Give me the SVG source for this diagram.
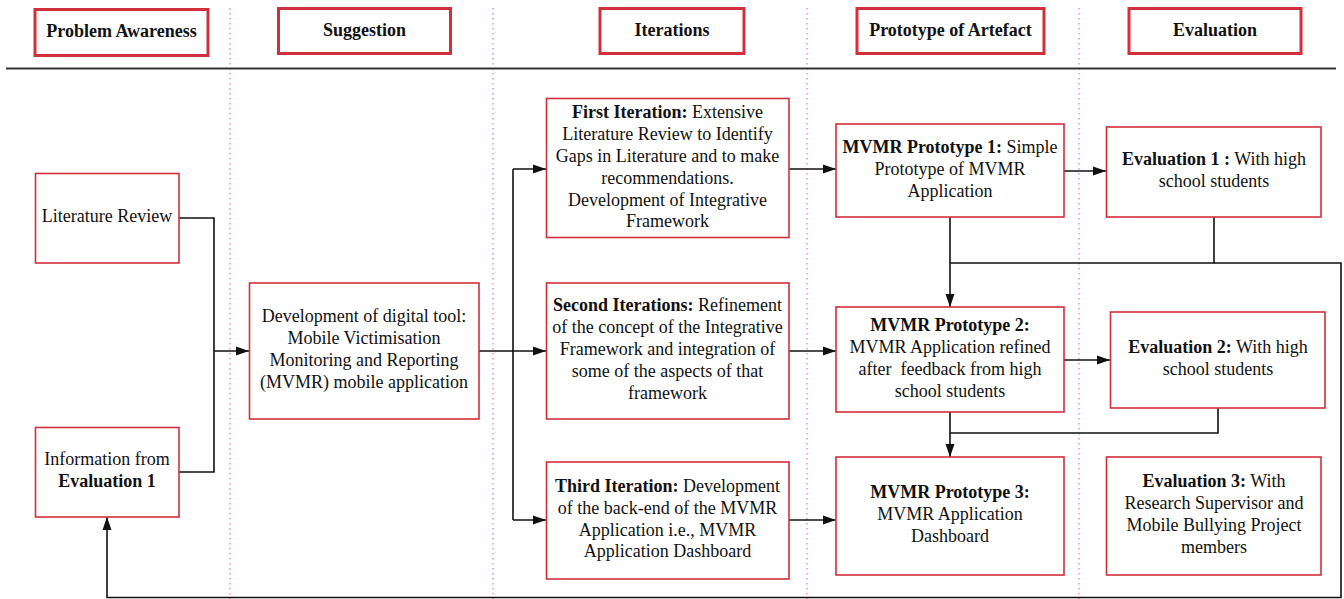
<svg xmlns="http://www.w3.org/2000/svg" width="1344" height="599" viewBox="0 0 1344 599">
  <style>
    text { font-family: "Liberation Serif", "Times New Roman", serif; font-size: 18px; fill: #111; text-anchor: middle; }
    .b { font-weight: bold; }
    .head { fill: #fff; stroke: #d22f3c; stroke-width: 3; }
    .node { fill: #fff; stroke: #d22f3c; stroke-width: 1.6; }
    .lane { stroke: #e8878f; stroke-width: 1.3; stroke-dasharray: 1.5 3.5; fill: none; }
    .wire { stroke: #111; stroke-width: 1.6; fill: none; }
  </style>
  <defs>
    <marker id="arrow" markerUnits="userSpaceOnUse" markerWidth="13" markerHeight="10" refX="13" refY="5" orient="auto">
      <path d="M0,0.5 L13,5 L0,9.5 z" fill="#111"/>
    </marker>
  </defs>

  <rect width="1344" height="599" fill="#fff"/>

  <!-- lane separators -->
  <g id="lanes">
    <line class="lane" x1="230" y1="8" x2="230" y2="599"/>
    <line class="lane" x1="493" y1="8" x2="493" y2="599"/>
    <line class="lane" x1="807" y1="8" x2="807" y2="599"/>
    <line class="lane" x1="1079" y1="8" x2="1079" y2="599"/>
  </g>

  <!-- header rule -->
  <line x1="6" y1="68.5" x2="1336" y2="68.5" stroke="#333" stroke-width="2"/>

  <!-- column headers -->
  <g id="header-problem-awareness">
    <rect class="head" x="35" y="9.5" width="173" height="46"/>
    <text class="b" x="121.5" y="37">Problem Awareness</text>
  </g>
  <g id="header-suggestion">
    <rect class="head" x="278.5" y="8.5" width="172" height="45"/>
    <text class="b" x="364.5" y="36">Suggestion</text>
  </g>
  <g id="header-iterations">
    <rect class="head" x="600" y="8.5" width="144" height="45"/>
    <text class="b" x="672" y="36">Iterations</text>
  </g>
  <g id="header-prototype">
    <rect class="head" x="857" y="8.5" width="187" height="45"/>
    <text class="b" x="950.5" y="36">Prototype of Artefact</text>
  </g>
  <g id="header-evaluation">
    <rect class="head" x="1129" y="8.5" width="172" height="45"/>
    <text class="b" x="1215" y="36">Evaluation</text>
  </g>

  <!-- connectors -->
  <g id="connectors">
    <!-- inputs merge into the digital tool -->
    <polyline class="wire" points="179,218 214,218 214,472 179,472"/>
    <line class="wire" x1="214" y1="351" x2="249" y2="351" marker-end="url(#arrow)"/>
    <!-- digital tool fans out to the three iterations -->
    <line class="wire" x1="479" y1="351" x2="546" y2="351" marker-end="url(#arrow)"/>
    <line class="wire" x1="513" y1="169" x2="513" y2="520"/>
    <line class="wire" x1="513" y1="169" x2="546" y2="169" marker-end="url(#arrow)"/>
    <line class="wire" x1="513" y1="520" x2="546" y2="520" marker-end="url(#arrow)"/>
    <!-- iterations to prototypes -->
    <line class="wire" x1="789" y1="169" x2="836" y2="169" marker-end="url(#arrow)"/>
    <line class="wire" x1="789" y1="351" x2="836" y2="351" marker-end="url(#arrow)"/>
    <line class="wire" x1="789" y1="520" x2="836" y2="520" marker-end="url(#arrow)"/>
    <!-- prototypes to evaluations -->
    <line class="wire" x1="1064" y1="171" x2="1106" y2="171" marker-end="url(#arrow)"/>
    <line class="wire" x1="1064" y1="360" x2="1110" y2="360" marker-end="url(#arrow)"/>
    <!-- prototype 1 / evaluation 1 feed prototype 2 -->
    <line class="wire" x1="950" y1="217" x2="950" y2="307" marker-end="url(#arrow)"/>
    <polyline class="wire" points="1214,217 1214,263 950,263"/>
    <!-- evaluation 1 loops back to problem awareness -->
    <polyline class="wire" points="1214,263 1341,263 1341,597.5 107,597.5 107,517" marker-end="url(#arrow)"/>
    <!-- prototype 2 / evaluation 2 feed prototype 3 -->
    <line class="wire" x1="950" y1="412" x2="950" y2="457" marker-end="url(#arrow)"/>
    <polyline class="wire" points="1218,408 1218,433 950,433"/>
  </g>

  <!-- problem awareness -->
  <g id="literature-review">
    <rect class="node" x="35.5" y="173.5" width="143.5" height="89.5"/>
    <text x="107" y="222">Literature Review</text>
  </g>
  <g id="information-evaluation-1">
    <rect class="node" x="35.5" y="427.5" width="143.5" height="89.5"/>
    <text x="107" y="465">Information from</text>
    <text x="107" y="487" class="b">Evaluation 1</text>
  </g>

  <!-- suggestion -->
  <g id="digital-tool">
    <rect class="node" x="249.5" y="283" width="229.5" height="136"/>
    <text x="364" y="322">Development of digital tool:</text>
    <text x="364" y="344">Mobile Victimisation</text>
    <text x="364" y="366">Monitoring and Reporting</text>
    <text x="364" y="388">(MVMR) mobile application</text>
  </g>

  <!-- iterations -->
  <g id="first-iteration">
    <rect class="node" x="546.5" y="98.5" width="242.5" height="139"/>
    <text x="667.5" y="118"><tspan class="b">First Iteration:</tspan> Extensive</text>
    <text x="667.5" y="140">Literature Review to Identify</text>
    <text x="667.5" y="162">Gaps in Literature and to make</text>
    <text x="667.5" y="184">recommendations.</text>
    <text x="667.5" y="205.5">Development of Integrative</text>
    <text x="667.5" y="227">Framework</text>
  </g>
  <g id="second-iteration">
    <rect class="node" x="546.5" y="283" width="242.5" height="136"/>
    <text x="667.5" y="311"><tspan class="b">Second Iterations:</tspan> Refinement</text>
    <text x="667.5" y="333">of the concept of the Integrative</text>
    <text x="667.5" y="355">Framework and integration of</text>
    <text x="667.5" y="377">some of the aspects of that</text>
    <text x="667.5" y="399">framework</text>
  </g>
  <g id="third-iteration">
    <rect class="node" x="546.5" y="462" width="242.5" height="117"/>
    <text x="667.5" y="492"><tspan class="b">Third Iteration:</tspan> Development</text>
    <text x="667.5" y="514">of the back-end of the MVMR</text>
    <text x="667.5" y="535.5">Application i.e., MVMR</text>
    <text x="667.5" y="557">Application Dashboard</text>
  </g>

  <!-- prototypes -->
  <g id="prototype-1">
    <rect class="node" x="836" y="124" width="228" height="93"/>
    <text x="950" y="153"><tspan class="b">MVMR Prototype 1:</tspan> Simple</text>
    <text x="950" y="175">Prototype of MVMR</text>
    <text x="950" y="197">Application</text>
  </g>
  <g id="prototype-2">
    <rect class="node" x="836" y="307" width="228" height="105"/>
    <text x="950" y="331" class="b">MVMR Prototype 2:</text>
    <text x="950" y="353">MVMR Application refined</text>
    <text x="950" y="375" xml:space="preserve">after  feedback from high</text>
    <text x="950" y="397">school students</text>
  </g>
  <g id="prototype-3">
    <rect class="node" x="836" y="457" width="228" height="118"/>
    <text x="950" y="498" class="b">MVMR Prototype 3:</text>
    <text x="950" y="520">MVMR Application</text>
    <text x="950" y="542">Dashboard</text>
  </g>

  <!-- evaluations -->
  <g id="evaluation-1">
    <rect class="node" x="1106.5" y="127" width="214.5" height="90"/>
    <text x="1214" y="165"><tspan class="b">Evaluation 1 :</tspan> With high</text>
    <text x="1214" y="187">school students</text>
  </g>
  <g id="evaluation-2">
    <rect class="node" x="1110.5" y="312" width="214.5" height="96"/>
    <text x="1218" y="353"><tspan class="b">Evaluation 2:</tspan> With high</text>
    <text x="1218" y="375">school students</text>
  </g>
  <g id="evaluation-3">
    <rect class="node" x="1106.5" y="457" width="214.5" height="118"/>
    <text x="1214" y="487"><tspan class="b">Evaluation 3:</tspan> With</text>
    <text x="1214" y="509">Research Supervisor and</text>
    <text x="1214" y="531">Mobile Bullying Project</text>
    <text x="1214" y="553">members</text>
  </g>
</svg>
